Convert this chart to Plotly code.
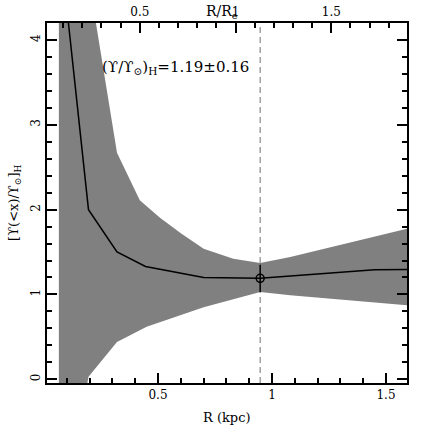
import plotly.graph_objects as go

# ---- data ----
R_line = [0.065, 0.195, 0.32, 0.445, 0.70, 0.948, 1.45, 1.60]
ML_line = [5.25, 2.00, 1.50, 1.33, 1.20, 1.19, 1.29, 1.295]

R_upper = [0.065, 0.195, 0.32, 0.42, 0.51, 0.60, 0.70, 0.83, 0.948, 1.08, 1.60]
ML_upper = [10.0, 4.74, 2.67, 2.11, 1.90, 1.72, 1.54, 1.42, 1.37, 1.44, 1.78]

R_lower = [0.065, 0.195, 0.32, 0.45, 0.70, 0.948, 1.08, 1.60]
ML_lower = [-2.0, 0.03, 0.44, 0.62, 0.85, 1.03, 0.99, 0.87]

R_H = 0.948
ML_H = 1.19
ML_H_err = 0.16
R_e = 0.84  # kpc

x_range = [0.013, 1.592]
y_range = [-0.044, 4.2]

FONT = "DejaVu Serif"

fig = go.Figure()

# uncertainty band
fig.add_trace(go.Scatter(
    x=R_upper + R_lower[::-1],
    y=ML_upper + ML_lower[::-1],
    fill="toself", fillcolor="#808080",
    line=dict(width=0), mode="lines", hoverinfo="skip", showlegend=False))

# dashed vertical line at R_H
fig.add_trace(go.Scatter(
    x=[R_H, R_H], y=y_range, mode="lines",
    line=dict(color="#8a8a8a", width=1.2, dash="6px,4px"),
    showlegend=False, hoverinfo="skip"))

# central curve
fig.add_trace(go.Scatter(
    x=R_line, y=ML_line, mode="lines",
    line=dict(color="black", width=1.5), showlegend=False))

# point with error bar
fig.add_trace(go.Scatter(
    x=[R_H], y=[ML_H], mode="markers",
    marker=dict(symbol="circle-open", size=8, color="black", line=dict(width=1.5)),
    error_y=dict(type="constant", value=ML_H_err, color="black", thickness=1.5, width=0),
    showlegend=False))

# invisible trace for top axis
fig.add_trace(go.Scatter(
    x=[x_range[0] / R_e, x_range[1] / R_e], y=[None, None], xaxis="x2",
    mode="lines", showlegend=False, hoverinfo="skip"))


def axis_style(**kw):
    d = dict(ticks="inside", ticklen=10, tickwidth=2, tickcolor="black",
             showline=True, linewidth=2, linecolor="black",
             showgrid=False, zeroline=False,
             tickfont=dict(family=FONT, size=12, color="black"))
    d.update(kw)
    return d


def minor_style(step):
    return dict(dtick=step, ticklen=5, ticks="inside", tickcolor="black", tickwidth=1.6)


fig.update_layout(
    template="none",
    width=429, height=429,
    margin=dict(l=47, r=22, t=23, b=46, autoexpand=False),
    paper_bgcolor="white", plot_bgcolor="white",
    xaxis=axis_style(range=x_range, dtick=0.5, tick0=0, minor=minor_style(0.1)),
    xaxis2=axis_style(range=[x_range[0] / R_e, x_range[1] / R_e], overlaying="x", side="top",
                      dtick=0.5, tick0=0, minor=minor_style(0.1)),
    yaxis=axis_style(range=y_range, dtick=1, tick0=0, tickangle=-90, mirror="ticks",
                     minor=minor_style(0.2)),
    annotations=[
        dict(text="(ϒ/ϒ<sub>⊙</sub>)<sub>H</sub>=1.19±0.16", x=0.247, y=3.68,
             xref="x", yref="y", xanchor="left", yanchor="middle", showarrow=False,
             font=dict(family=FONT, size=15, color="black")),
        dict(text="R (kpc)", x=0.5, y=-0.095, xref="paper", yref="paper",
             xanchor="center", yanchor="middle", showarrow=False,
             font=dict(family=FONT, size=13, color="black")),
        dict(text="R/R<sub>e</sub>", x=0.485, y=1.03, xref="paper", yref="paper",
             xanchor="center", yanchor="middle", showarrow=False,
             font=dict(family=FONT, size=14, color="black")),
        dict(text="[ϒ(<x)/ϒ<sub>⊙</sub>]<sub>H</sub>", x=-0.092, y=0.5, xref="paper", yref="paper",
             xanchor="center", yanchor="middle", showarrow=False, textangle=-90,
             font=dict(family=FONT, size=13, color="black")),
    ],
)

fig.write_html("out.html", config={"displayModeBar": False},
               post_script="document.body.style.margin='0';document.body.style.padding='0';")
